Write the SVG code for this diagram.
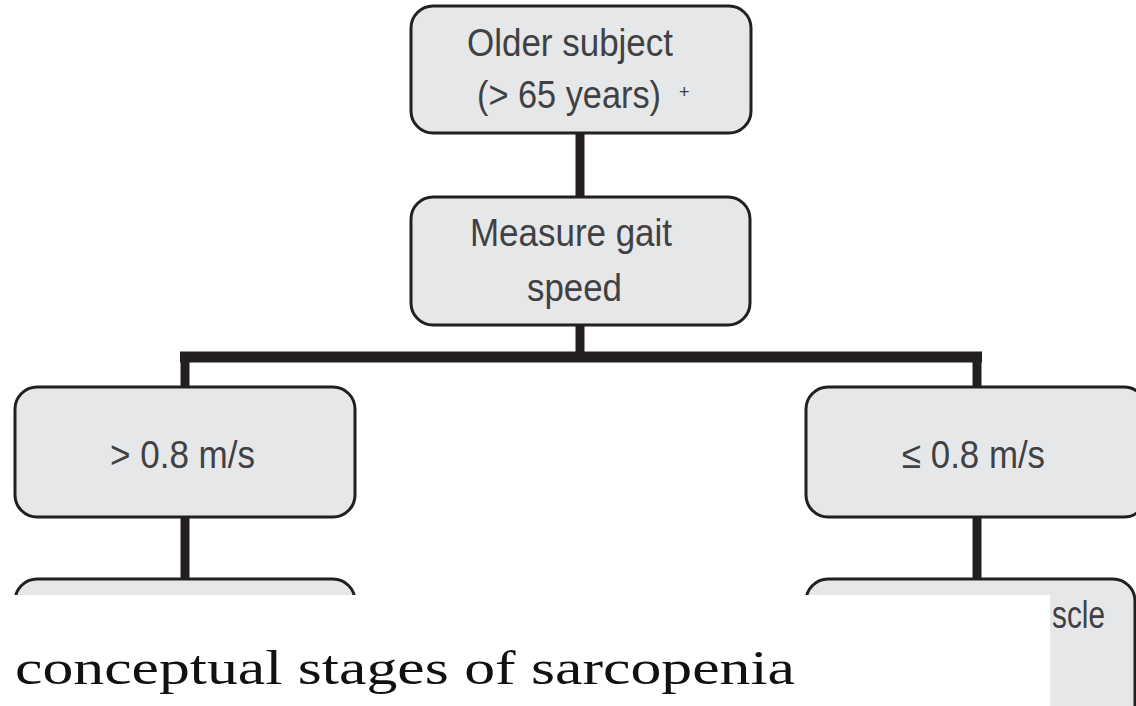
<svg xmlns="http://www.w3.org/2000/svg" width="1136" height="706" viewBox="0 0 1136 706">
<style>
.box{fill:#e6e7e8;stroke:#231f20;stroke-width:3}
.lbl{font-family:"Liberation Sans",Arial,sans-serif;font-size:38px;fill:#414042}
.con{stroke:#231f20;stroke-width:9;fill:none}
</style>
<rect width="1136" height="706" fill="#ffffff"/>
<g id="connectors">
<line class="con" x1="580" y1="133" x2="580" y2="197"/>
<line class="con" x1="580" y1="325" x2="580" y2="357"/>
<line x1="180" y1="357" x2="982" y2="357" stroke="#231f20" stroke-width="11"/>
<line class="con" x1="185" y1="352" x2="185" y2="387"/>
<line class="con" x1="977" y1="352" x2="977" y2="387"/>
<line class="con" x1="185" y1="517" x2="185" y2="579"/>
<line class="con" x1="977" y1="517" x2="977" y2="579"/>
</g>
<g id="node-older">
<rect class="box" x="411" y="6" width="340" height="127" rx="22"/>
<text class="lbl" x="467" y="56" textLength="206" lengthAdjust="spacingAndGlyphs">Older subject</text>
<text class="lbl" x="477" y="108" textLength="184" lengthAdjust="spacingAndGlyphs">(&gt; 65 years)</text>
<text x="679" y="98" font-family="Liberation Sans,Arial,sans-serif" font-size="18" fill="#414042">+</text>
</g>
<g id="node-gait">
<rect class="box" x="411" y="197" width="339" height="128" rx="22"/>
<text class="lbl" x="470" y="246" textLength="202" lengthAdjust="spacingAndGlyphs">Measure gait</text>
<text class="lbl" x="527" y="301" textLength="95" lengthAdjust="spacingAndGlyphs">speed</text>
</g>
<g id="node-fast">
<rect class="box" x="15" y="387" width="340" height="130" rx="22"/>
<text class="lbl" x="110" y="468" textLength="145" lengthAdjust="spacingAndGlyphs">&gt; 0.8 m/s</text>
</g>
<g id="node-slow">
<rect class="box" x="806" y="387" width="340" height="130" rx="22"/>
<text class="lbl" x="902" y="468" textLength="143" lengthAdjust="spacingAndGlyphs">≤ 0.8 m/s</text>
</g>
<g id="node-bottom-left">
<rect class="box" x="15" y="579" width="340" height="150" rx="22"/>
</g>
<g id="node-bottom-right">
<rect class="box" x="806" y="579" width="329" height="150" rx="22"/>
<text class="lbl" x="1052" y="628" textLength="53" lengthAdjust="spacingAndGlyphs">scle</text>
</g>
<rect x="0" y="595" width="1050" height="111" fill="#ffffff"/>
<text x="15" y="684" font-family="Liberation Serif,Times New Roman,serif" font-size="48" fill="#111111" textLength="780" lengthAdjust="spacingAndGlyphs">conceptual stages of sarcopenia</text>
</svg>
